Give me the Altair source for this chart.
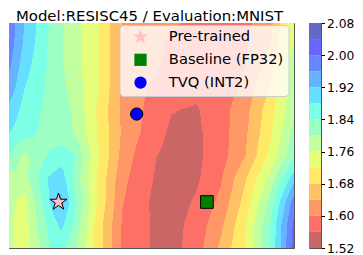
import altair as alt
import numpy as np
import pandas as pd

alt.data_transformers.disable_max_rows()

TITLE = "Model:RESISC45 / Evaluation:MNIST"

# loss landscape grid: column positions (grid units) and row positions (bottom -> top)
grid_u = [0, 1, 2, 2.5, 3, 4, 5, 6, 7, 8, 9, 10, 11, 12]
grid_v = [0, 1, 2, 3, 4, 5, 6, 7, 8, 9, 10]

loss_v10 = [2.030, 1.920, 1.840, 1.808, 1.778, 1.722, 1.639, 1.624, 1.608, 1.592, 1.580, 1.590, 1.618, 1.750]
loss_v9 = [2.025, 1.913, 1.836, 1.803, 1.776, 1.722, 1.635, 1.614, 1.595, 1.585, 1.583, 1.595, 1.634, 1.760]
loss_v8 = [2.010, 1.898, 1.834, 1.803, 1.778, 1.722, 1.635, 1.611, 1.592, 1.582, 1.580, 1.597, 1.657, 1.785]
loss_v7 = [1.985, 1.881, 1.832, 1.812, 1.784, 1.723, 1.632, 1.600, 1.585, 1.572, 1.575, 1.613, 1.680, 1.790]
loss_v6 = [1.935, 1.864, 1.828, 1.814, 1.796, 1.714, 1.631, 1.594, 1.562, 1.556, 1.584, 1.625, 1.702, 1.790]
loss_v5 = [1.895, 1.855, 1.825, 1.815, 1.800, 1.716, 1.634, 1.588, 1.552, 1.552, 1.582, 1.632, 1.711, 1.810]
loss_v4 = [1.860, 1.790, 1.845, 1.860, 1.845, 1.725, 1.626, 1.568, 1.548, 1.550, 1.583, 1.638, 1.729, 1.830]
loss_v3 = [1.790, 1.785, 1.885, 1.905, 1.830, 1.715, 1.611, 1.565, 1.545, 1.553, 1.595, 1.675, 1.770, 1.905]
loss_v2 = [1.785, 1.745, 1.878, 1.930, 1.855, 1.715, 1.602, 1.562, 1.540, 1.565, 1.610, 1.695, 1.810, 1.980]
loss_v1 = [1.785, 1.740, 1.850, 1.890, 1.835, 1.700, 1.595, 1.562, 1.545, 1.575, 1.630, 1.715, 1.835, 2.010]
loss_v0 = [1.785, 1.735, 1.838, 1.855, 1.810, 1.700, 1.593, 1.562, 1.545, 1.580, 1.648, 1.722, 1.837, 2.020]

levels = [1.52, 1.56, 1.60, 1.64, 1.68, 1.72, 1.76, 1.80, 1.84, 1.88, 1.92, 1.96, 2.00, 2.04, 2.08]
band_colors = ["#cb6666", "#fd7066", "#ff9866", "#ffc166", "#ffe966", "#e5ff7b", "#c2ff9e",
               "#9effc2", "#7bffe5", "#66deff", "#66b3ff", "#6687ff", "#6666fd", "#6666cb"]
cbar_ticks = [1.52, 1.60, 1.68, 1.76, 1.84, 1.92, 2.00, 2.08]

STAR = ("M0,-1.3L0.2919,-0.4017L1.2364,-0.4017L0.4723,0.1535L0.7641,1.0517L0,0.4966"
        "L-0.7641,1.0517L-0.4723,0.1535L-1.2364,-0.4017L-0.2919,-0.4017Z")
marker_names = ["Pre-trained", "Baseline (FP32)", "TVQ (INT2)"]
marker_u = [2.384, 8.444, 5.576]
marker_v = [2.0, 2.0, 5.826]
marker_shapes = [STAR, "square", "circle"]
marker_fills = ["pink", "green", "blue"]
marker_sizes = [190.0, 160.0, 150.0]

# ---- raster of the filled contour bands (bilinear on the grid, vertical runs) ----
G = np.array([loss_v0, loss_v1, loss_v2, loss_v3, loss_v4, loss_v5,
              loss_v6, loss_v7, loss_v8, loss_v9, loss_v10])
W, H = 285, 225
x0, x1 = 9 / 24.75, 12.0
y0, y1 = 0.0, 225 / 23
u_edges = x0 + (x1 - x0) * np.arange(W + 1) / W
v_edges = y1 - (y1 - y0) * np.arange(H + 1) / H
u_c = 0.5 * (u_edges[:-1] + u_edges[1:])
v_c = 0.5 * (v_edges[:-1] + v_edges[1:])
A = np.array([np.interp(u_c, grid_u, r) for r in G])
F = np.empty((H, W))
for j in range(W):
    F[:, j] = np.interp(v_c, grid_v, A[:, j])
band = np.clip(np.searchsorted(levels, F, side="right") - 1, 0, len(band_colors) - 1)

du = (x1 - x0) / W
dv = (y1 - y0) / H
recs = []
for j in range(W):
    col = band[:, j]
    s = 0
    for e in range(1, H + 1):
        if e == H or col[e] != col[s]:
            recs.append({
                "u": round(float(u_edges[j]), 4),
                "u2": round(float(u_edges[j + 1] + 0.4 * du), 4),
                "v": round(float(v_edges[s]), 4),
                "v2": round(float(v_edges[e] - 0.4 * dv), 4),
                "c": band_colors[int(col[s])],
            })
            s = e
field_df = pd.DataFrame(recs)

xs = alt.Scale(domain=[x0, x1], nice=False, zero=False)
ys = alt.Scale(domain=[y0, y1], nice=False, zero=False)

field = alt.Chart(field_df).mark_rect(clip=True).encode(
    x=alt.X("u:Q", scale=xs, axis=None),
    x2="u2",
    y=alt.Y("v:Q", scale=ys, axis=None),
    y2="v2",
    fill=alt.Fill("c:N", scale=None),
)

mdf = pd.DataFrame({"name": marker_names, "u": marker_u, "v": marker_v, "sz": marker_sizes})
leg = alt.Legend(
    title=None, orient="none", legendX=110.5, legendY=2,
    fillColor="rgba(255,255,255,0.8)", strokeColor="#cccccc", cornerRadius=4,
    padding=4.65, symbolSize=150, symbolStrokeColor="black", symbolStrokeWidth=1,
    symbolOffset=9, labelOffset=21, rowPadding=5.8,
    labelFont="DejaVu Sans", labelFontSize=14.7, labelColor="black", symbolOpacity=1,
)
points = alt.Chart(mdf).mark_point(filled=True, opacity=1, stroke="black", strokeWidth=1).encode(
    x=alt.X("u:Q", scale=xs, axis=None),
    y=alt.Y("v:Q", scale=ys, axis=None),
    shape=alt.Shape("name:N", scale=alt.Scale(domain=marker_names, range=marker_shapes), legend=leg),
    color=alt.Color("name:N", scale=alt.Scale(domain=marker_names, range=marker_fills), legend=leg),
    size=alt.Size("sz:Q", scale=None, legend=None),
)

main = alt.layer(field, points).properties(
    width=W, height=H,
    title=alt.TitleParams(text=TITLE, font="DejaVu Sans", fontSize=14.9, fontWeight="normal",
                          color="black", anchor="middle", offset=-1, dx=-2),
)

cb_df = pd.DataFrame({"lo": levels[:-1], "hi": levels[1:], "c": band_colors})
colorbar = alt.Chart(cb_df).mark_rect().encode(
    x=alt.value(0), x2=alt.value(12),
    y=alt.Y("lo:Q", scale=alt.Scale(domain=[1.52, 2.08], nice=False, zero=False),
            axis=alt.Axis(orient="right", values=cbar_ticks, format=".2f", title=None,
                          tickSize=3.5, tickColor="black", labelFontSize=12.3,
                          labelFont="DejaVu Sans", labelColor="black", domain=False,
                          grid=False, labelPadding=2)),
    y2="hi",
    fill=alt.Fill("c:N", scale=None),
).properties(width=12, height=H)

chart = alt.hconcat(main, colorbar, spacing=15, bounds="flush").properties(
    padding={"left": 0, "right": 0, "top": 0, "bottom": 0}
).configure_view(stroke="#555555", strokeWidth=1)

chart.save("out.html", embed_options={"renderer": "svg", "actions": False})
